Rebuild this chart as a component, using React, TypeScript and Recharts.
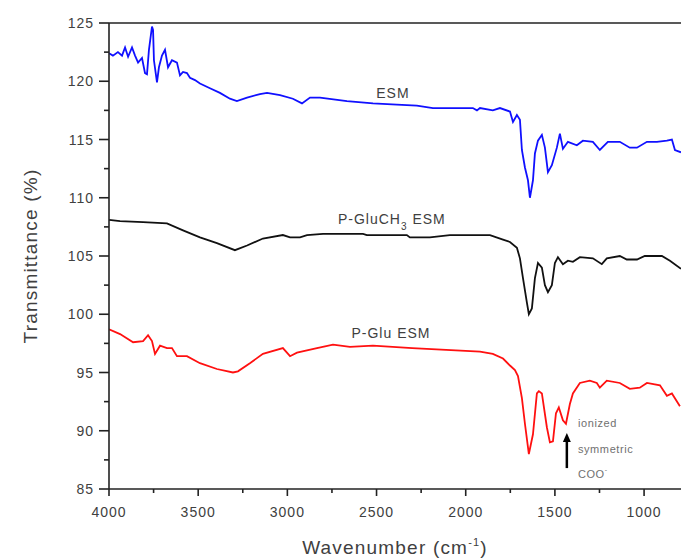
import React from "react"
import { LineChart, Line, XAxis, YAxis, ReferenceLine, ReferenceDot } from "recharts"

// FTIR spectra: [wavenumber cm-1, transmittance %]
const esm = [
  [4000, 122.4], [3978, 122.2], [3950, 122.5], [3927, 122.2], [3910, 122.9], [3893, 122.1],
  [3871, 122.9], [3854, 122.2], [3837, 121.6], [3815, 122.0], [3798, 120.7], [3787, 120.6],
  [3776, 122.7], [3759, 124.7], [3753, 124.4], [3748, 121.8], [3731, 119.9], [3720, 121.2],
  [3703, 122.2], [3686, 122.7], [3669, 121.2], [3647, 121.8], [3619, 121.6], [3602, 120.5],
  [3585, 120.8], [3563, 120.7], [3546, 120.3], [3518, 120.1], [3490, 119.8], [3434, 119.4],
  [3378, 119.0], [3322, 118.5], [3283, 118.3], [3226, 118.6], [3154, 118.9], [3114, 119.0],
  [3041, 118.8], [2969, 118.5], [2918, 118.1], [2873, 118.6], [2817, 118.6], [2666, 118.3],
  [2520, 118.1], [2386, 118.0], [2274, 117.9], [2184, 117.7], [1960, 117.7], [1937, 117.5],
  [1920, 117.7], [1848, 117.5], [1808, 117.7], [1752, 117.4], [1735, 116.5], [1713, 117.1],
  [1696, 116.7], [1685, 114.1], [1668, 112.6], [1651, 111.5], [1640, 110.0], [1623, 111.5],
  [1612, 113.8], [1595, 114.9], [1573, 115.4], [1556, 114.3], [1539, 112.2], [1517, 112.8],
  [1489, 114.3], [1472, 115.5], [1455, 114.2], [1427, 114.8], [1377, 114.5], [1343, 114.9],
  [1287, 114.8], [1248, 114.1], [1203, 114.8], [1136, 114.8], [1080, 114.3], [1040, 114.3],
  [984, 114.8], [928, 114.8], [872, 114.9], [844, 115.0], [827, 114.1], [793, 113.9],
]

const gluCH3 = [
  [4000, 108.1], [3938, 108.0], [3809, 107.9], [3675, 107.8], [3585, 107.2], [3490, 106.6],
  [3395, 106.1], [3294, 105.5], [3226, 105.9], [3137, 106.5], [3025, 106.8], [2985, 106.6],
  [2929, 106.6], [2890, 106.8], [2800, 106.9], [2744, 106.9], [2576, 106.9], [2554, 106.8],
  [2330, 106.8], [2313, 106.6], [2201, 106.6], [2089, 106.8], [1864, 106.8], [1791, 106.4],
  [1752, 106.2], [1713, 105.7], [1696, 104.8], [1679, 103.1], [1657, 101.0], [1646, 100.0],
  [1629, 100.5], [1612, 103.1], [1595, 104.4], [1573, 104.0], [1556, 102.5], [1539, 101.9],
  [1517, 102.5], [1500, 104.4], [1483, 104.9], [1455, 104.3], [1427, 104.6], [1399, 104.5],
  [1360, 104.9], [1287, 104.8], [1237, 104.3], [1209, 104.8], [1136, 105.0], [1097, 104.7],
  [1040, 104.7], [996, 105.0], [900, 105.0], [855, 104.6], [793, 103.9],
]

const glu = [
  [4000, 98.7], [3938, 98.3], [3865, 97.6], [3809, 97.7], [3781, 98.2], [3759, 97.7],
  [3742, 96.6], [3714, 97.3], [3675, 97.1], [3647, 97.1], [3619, 96.4], [3563, 96.4],
  [3490, 95.8], [3395, 95.3], [3305, 95.0], [3277, 95.1], [3210, 95.8], [3137, 96.6],
  [3025, 97.1], [2985, 96.4], [2946, 96.7], [2834, 97.1], [2744, 97.4], [2649, 97.2],
  [2520, 97.3], [2300, 97.1], [1920, 96.8], [1848, 96.6], [1791, 96.2], [1752, 95.6],
  [1724, 95.2], [1707, 94.7], [1685, 92.8], [1668, 90.6], [1646, 88.0], [1623, 89.7],
  [1601, 93.2], [1590, 93.4], [1573, 93.2], [1545, 90.3], [1528, 89.0], [1511, 89.1],
  [1494, 91.5], [1478, 92.0], [1455, 90.9], [1438, 90.6], [1416, 92.3], [1399, 93.2],
  [1360, 94.1], [1304, 94.3], [1265, 94.1], [1248, 93.7], [1209, 94.3], [1136, 94.1],
  [1080, 93.6], [1024, 93.7], [984, 94.1], [911, 93.9], [872, 93.0], [844, 93.2], [799, 92.1],
]

const xTicks = [4000, 3750, 3500, 3250, 3000, 2750, 2500, 2250, 2000, 1750, 1500, 1250, 1000]
const yTicks = [85, 87.5, 90, 92.5, 95, 97.5, 100, 102.5, 105, 107.5, 110, 112.5, 115, 117.5, 120, 122.5, 125]

// curve labels and the COO- note, in data coordinates
const curveLabels = [
  { wn: 2408, t: 119.0, text: "ESM", sub: "" },
  { wn: 2414, t: 108.2, text: "P-GluCH", sub: "3" },
  { wn: 2419, t: 98.4, text: "P-Glu ESM", sub: "" },
]
const noteLines = [
  { wn: 1371, t: 90.7, text: "ionized" },
  { wn: 1371, t: 88.45, text: "symmetric" },
  { wn: 1371, t: 86.3, text: "COO" },
]
const arrowAt = { wn: 1433, t: 89.8 }

const toRows = (pts: number[][]) => pts.map(([x, y]) => ({ x, y }))

const FONT = "'Liberation Sans', Arial, sans-serif"
const TXT = "#404040"
const AXIS_X = 109
const AXIS_Y = 489

const YTick = (props: any) => {
  const { y, payload } = props
  const major = payload.value % 5 === 0
  return (
    <g>
      <line x1={AXIS_X - (major ? 10 : 5)} x2={AXIS_X} y1={y} y2={y} stroke="#222" strokeWidth={1.6} />
      {major && (
        <text x={94} y={y + 5} textAnchor="end" fontSize={14} letterSpacing={1} fill={TXT} fontFamily={FONT}>
          {payload.value}
        </text>
      )}
    </g>
  )
}

const XTick = (props: any) => {
  const { x, payload } = props
  const major = payload.value % 500 === 0
  return (
    <g>
      <line x1={x} x2={x} y1={AXIS_Y} y2={AXIS_Y + (major ? 7 : 4)} stroke="#222" strokeWidth={1.6} />
      {major && (
        <text x={x} y={AXIS_Y + 28} textAnchor="middle" fontSize={14} letterSpacing={1} fill={TXT} fontFamily={FONT}>
          {payload.value}
        </text>
      )}
    </g>
  )
}

const CurveLabel = (props: any) => {
  const { viewBox, text, sub } = props
  const cx = viewBox.x
  const cy = viewBox.y
  return (
    <text x={cx} y={cy + 5} textAnchor="middle" fontSize={14} letterSpacing={1} fill={TXT} fontFamily={FONT}>
      {text}
      {sub && (
        <>
          <tspan fontSize={10} dy={6}>{sub}</tspan>
          <tspan dy={-6}> ESM</tspan>
        </>
      )}
    </text>
  )
}

const NoteLabel = (props: any) => {
  const { viewBox, text } = props
  return (
    <text x={viewBox.x} y={viewBox.y + 4} fontSize={11} letterSpacing={0.6} fill="#707070" fontFamily={FONT}>
      {text}
      {text === "COO" && <tspan fontSize={7} dy={-6}>-</tspan>}
    </text>
  )
}

const Arrow = (props: any) => {
  const { cx, cy } = props
  return (
    <g>
      <line x1={cx} x2={cx} y1={cy + 6} y2={cy + 35} stroke="#000" strokeWidth={2.5} />
      <polygon points={`${cx},${cy} ${cx - 4},${cy + 9} ${cx + 4},${cy + 9}`} fill="#000" />
    </g>
  )
}

const XTitle = (props: any) => {
  const vb = props.viewBox || { x: AXIS_X, y: AXIS_Y, width: 572 }
  return (
    <text x={vb.x + vb.width / 2} y={AXIS_Y + 65} textAnchor="middle" fontSize={19} letterSpacing={1.2} fill={TXT} fontFamily={FONT}>
      Wavenumber (cm<tspan fontSize={11} dy={-8}>-1</tspan><tspan dy={8}>)</tspan>
    </text>
  )
}

const YTitle = () => (
  <text
    x={30}
    y={256}
    transform="rotate(-90 30 256)"
    textAnchor="middle"
    dominantBaseline="central"
    fontSize={19}
    letterSpacing={1.2}
    fill={TXT}
    fontFamily={FONT}
  >
    Transmittance (%)
  </text>
)

export default function App() {
  return (
    <div style={{ position: "absolute", left: 0, top: 0, width: 681, height: 560, overflow: "hidden", background: "#fff" }}>
      <LineChart width={681} height={560} margin={{ top: 23, right: 0, bottom: 0, left: 0 }}>
        <XAxis
          type="number"
          dataKey="x"
          domain={[793, 4000]}
          reversed
          allowDataOverflow
          ticks={xTicks}
          interval={0}
          height={71}
          tickLine={false}
          axisLine={{ stroke: "#222", strokeWidth: 1.6 }}
          tick={<XTick />}
          label={<XTitle />}
        />
        <YAxis
          type="number"
          dataKey="y"
          domain={[85, 125]}
          allowDataOverflow
          ticks={yTicks}
          interval={0}
          width={109}
          tickLine={false}
          axisLine={{ stroke: "#222", strokeWidth: 1.6 }}
          tick={<YTick />}
          label={<YTitle />}
        />
        <ReferenceLine y={125} stroke="#222" strokeWidth={1.6} />
        <Line data={toRows(esm)} dataKey="y" stroke="#1010ff" strokeWidth={1.8} dot={false} isAnimationActive={false} />
        <Line data={toRows(gluCH3)} dataKey="y" stroke="#111" strokeWidth={1.8} dot={false} isAnimationActive={false} />
        <Line data={toRows(glu)} dataKey="y" stroke="#ff1010" strokeWidth={1.8} dot={false} isAnimationActive={false} />
        {curveLabels.map((l) => (
          <ReferenceDot key={l.text} x={l.wn} y={l.t} r={0} fill="none" stroke="none" label={<CurveLabel text={l.text} sub={l.sub} />} />
        ))}
        {noteLines.map((l) => (
          <ReferenceDot key={l.text} x={l.wn} y={l.t} r={0} fill="none" stroke="none" label={<NoteLabel text={l.text} />} />
        ))}
        <ReferenceDot x={arrowAt.wn} y={arrowAt.t} r={0} shape={<Arrow />} />
      </LineChart>
    </div>
  )
}
